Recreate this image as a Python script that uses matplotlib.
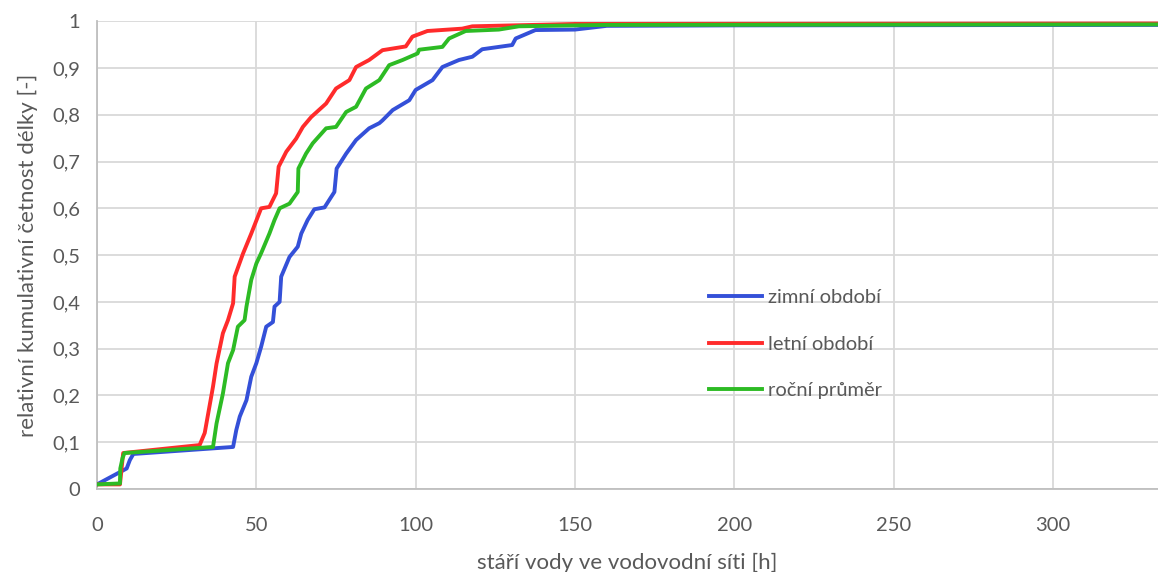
import matplotlib
matplotlib.use("Agg")
import matplotlib.pyplot as plt
from matplotlib.ticker import FuncFormatter

plt.rcParams['font.family'] = ['Lato', 'DejaVu Sans']

# zimní období (winter)
zima_x = [0, 9.3, 10.3, 11.4, 42.7, 43.7, 44.8, 46.9, 48.4, 50.0, 51.5, 53.1, 55.2, 55.7, 57.3, 57.8,
          60.4, 63.0, 64.1, 66.1, 68.2, 71.4, 72.9, 74.5, 75.2, 78.2, 81.3, 85.4, 88.6, 89.6, 92.8,
          98.0, 100.0, 105.3, 108.4, 113.6, 117.8, 120.9, 130.3, 131.4, 137.6, 150.0, 160.0, 200.0, 333]
zima_y = [0.01, 0.044, 0.062, 0.075, 0.09, 0.126, 0.155, 0.19, 0.24, 0.269, 0.304, 0.347, 0.357, 0.39,
          0.40, 0.454, 0.496, 0.518, 0.546, 0.575, 0.598, 0.602, 0.618, 0.635, 0.685, 0.717, 0.746,
          0.771, 0.782, 0.788, 0.81, 0.831, 0.853, 0.874, 0.902, 0.917, 0.924, 0.94, 0.949, 0.963,
          0.981, 0.982, 0.99, 0.991, 0.992]

# letní období (summer)
leto_x = [0, 7.2, 8.2, 32.2, 33.8, 36.4, 37.5, 39.5, 41.1, 42.7, 43.2, 45.8, 48.4, 51.5, 54.1, 56.2,
          57.0, 59.4, 62.5, 64.6, 67.2, 71.9, 75.0, 79.2, 81.3, 85.4, 89.6, 96.9, 99.0, 103.7, 114.6,
          117.8, 150.0, 333]
leto_y = [0.01, 0.01, 0.077, 0.094, 0.12, 0.219, 0.268, 0.333, 0.361, 0.397, 0.454, 0.503, 0.546, 0.60,
          0.603, 0.632, 0.689, 0.721, 0.749, 0.774, 0.795, 0.824, 0.856, 0.874, 0.902, 0.917, 0.938,
          0.946, 0.967, 0.979, 0.984, 0.989, 0.994, 0.995]

# roční průměr (annual mean)
rok_x = [0, 7.2, 7.3, 8.0, 8.6, 36.4, 37.5, 39.5, 41.1, 42.7, 44.2, 46.3, 46.9, 48.4, 50.0, 51.5, 54.1,
         55.7, 57.3, 60.4, 63.0, 63.2, 65.6, 67.7, 71.9, 75.0, 78.2, 81.3, 84.4, 88.6, 91.7, 95.9,
         100.6, 101.1, 108.4, 110.5, 115.7, 126.1, 132.4, 160.0, 333]
rok_y = [0.01, 0.012, 0.044, 0.066, 0.077, 0.09, 0.14, 0.204, 0.269, 0.297, 0.347, 0.361, 0.39, 0.447,
         0.482, 0.504, 0.546, 0.575, 0.60, 0.61, 0.635, 0.685, 0.717, 0.739, 0.771, 0.774, 0.806,
         0.817, 0.856, 0.874, 0.906, 0.917, 0.931, 0.939, 0.945, 0.963, 0.979, 0.982, 0.989, 0.992, 0.993]

labels = ['zimní období', 'letní období', 'roční průměr']
colors = ['#3450d8', '#ff2b2b', '#2dbb24']

fig = plt.figure(figsize=(11.58, 5.72), dpi=100)
ax = fig.add_axes([0.0838, 0.145, 0.9162, 0.818])

ax.plot(zima_x, zima_y, color=colors[0], lw=2.8, label=labels[0], zorder=3)
ax.plot(leto_x, leto_y, color=colors[1], lw=2.8, label=labels[1], zorder=4)
ax.plot(rok_x, rok_y, color=colors[2], lw=2.8, label=labels[2], zorder=5)

ax.set_xlim(0, 333)
ax.set_ylim(0, 1)
ax.set_xticks(range(0, 301, 50))
ax.set_yticks([i / 10 for i in range(11)])
ax.yaxis.set_major_formatter(FuncFormatter(lambda v, p: ('%g' % round(v, 1)).replace('.', ',')))
ax.grid(True, color='#d9d9d9', lw=1.3)
ax.set_axisbelow(True)
for s in ['top', 'right']:
    ax.spines[s].set_visible(False)
for s in ['left', 'bottom']:
    ax.spines[s].set_color('#bfbfbf')
    ax.spines[s].set_linewidth(1.3)
ax.tick_params(length=0, labelsize=14.5, labelcolor='#595959')
ax.tick_params(axis='x', pad=20)
ax.tick_params(axis='y', pad=12)

ax.set_xlabel('stáří vody ve vodovodní síti [h]', fontsize=16, color='#595959', labelpad=14)
ax.set_ylabel('relativní kumulativní četnost délky [-]', fontsize=16, color='#595959', labelpad=10)

leg = ax.legend(loc='center left', bbox_to_anchor=(0.56, 0.31), frameon=False, fontsize=14.5,
                labelspacing=1.45, handlelength=2.6, handletextpad=0.3)
for t in leg.get_texts():
    t.set_color('#595959')

fig.savefig('out.png', dpi=100)
